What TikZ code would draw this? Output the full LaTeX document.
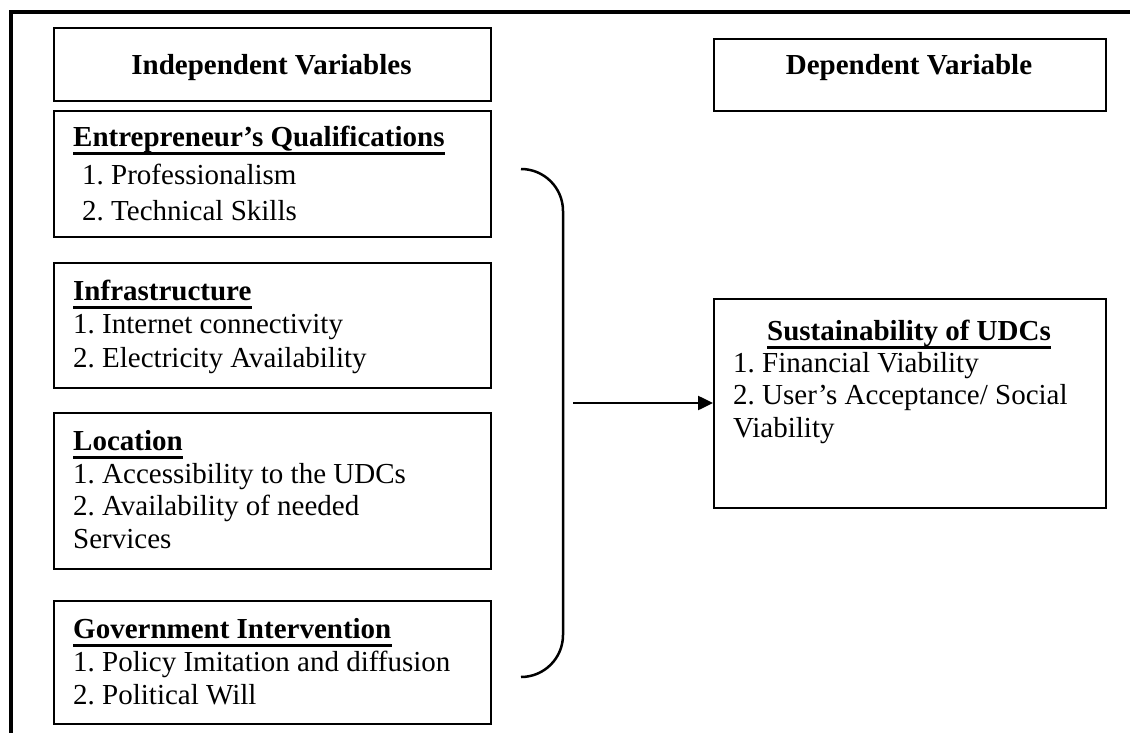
\documentclass[tikz,border=0pt]{standalone}
\usepackage{fontspec}
\setmainfont{Liberation Serif}
\usetikzlibrary{arrows.meta}
\frenchspacing
\begin{document}
\begin{tikzpicture}[x=1pt,y=-1pt,
  box/.style={draw, line width=2pt, inner sep=0pt, anchor=north west},
  ttl/.style={anchor=base west, inner sep=0pt, font=\fontsize{29}{33}\selectfont\bfseries},
  hdr/.style={anchor=base, inner sep=0pt, font=\fontsize{29}{33}\selectfont\bfseries},
  itm/.style={anchor=base west, inner sep=0pt, font=\fontsize{29}{33}\selectfont},
  uln/.style={line width=3pt},
  frameline/.style={line width=4pt},
  conn/.style={line width=2.5pt}]
\useasboundingbox (0,0) rectangle (1130,733);
% frame
\draw[frameline] (11,733) -- (11,12) -- (1130,12);
% boxes
\node[box, minimum width=437pt, minimum height=73pt] (iv) at (53,27) {};
\node[box, minimum width=392pt, minimum height=72pt] (dv) at (713,38) {};
\node[box, minimum width=437pt, minimum height=126pt] (eq) at (53,110) {};
\node[box, minimum width=437pt, minimum height=125pt] (inf) at (53,262) {};
\node[box, minimum width=437pt, minimum height=156pt] (loc) at (53,412) {};
\node[box, minimum width=437pt, minimum height=123pt] (gov) at (53,600) {};
\node[box, minimum width=392pt, minimum height=209pt] (sus) at (713,298) {};
% headers
\node[hdr] (ivt) at (271.5,75) {Independent Variables};
\node[hdr] (dvt) at (909,75) {Dependent Variable};
% entrepreneur
\node[ttl] (eqt) at (73,147) {Entrepreneur’s Qualifications};
\node[itm] (eq1) at (82,185) {1. Professionalism};
\node[itm] (eq2) at (82,220) {2. Technical Skills};
% infrastructure
\node[ttl] (inft) at (73,300) {Infrastructure};
\node[itm] (inf1) at (73,333) {1. Internet connectivity};
\node[itm] (inf2) at (73,367) {2. Electricity Availability};
% location
\node[ttl] (loct) at (73,450) {Location};
\node[itm] (loc1) at (73,483) {1. Accessibility to the UDCs};
\node[itm] (loc2) at (73,515) {2. Availability of needed};
\node[itm] (loc3) at (73,548) {Services};
% government
\node[ttl] (govt) at (73,638) {Government Intervention};
\node[itm] (gov1) at (73,671) {1. Policy Imitation and diffusion};
\node[itm] (gov2) at (73,704) {2. Political Will};
% sustainability
\node[hdr] (sust) at (909,340) {Sustainability of UDCs};
\node[itm] (sus1) at (733,372) {1. Financial Viability};
\node[itm] (sus2) at (733,404) {2. User’s Acceptance/ Social};
\node[itm] (sus3) at (733,437) {Viability};
% underlines
\foreach \t in {eqt,inft,loct,govt,sust}
  \draw[uln] ([yshift=-7pt]\t.base west) -- ([yshift=-7pt]\t.base east);
% bracket
\coordinate (bt) at (521,169);
\coordinate (bb) at (521,677);
\draw[conn, rounded corners=42pt] (bt) -- (563,169) -- (563,677) -- (bb);
% arrow
\coordinate (as) at (573,403);
\draw[conn, -{Triangle[length=15pt,width=14pt]}] (as) -- (as -| sus.west);
\end{tikzpicture}
\end{document}
